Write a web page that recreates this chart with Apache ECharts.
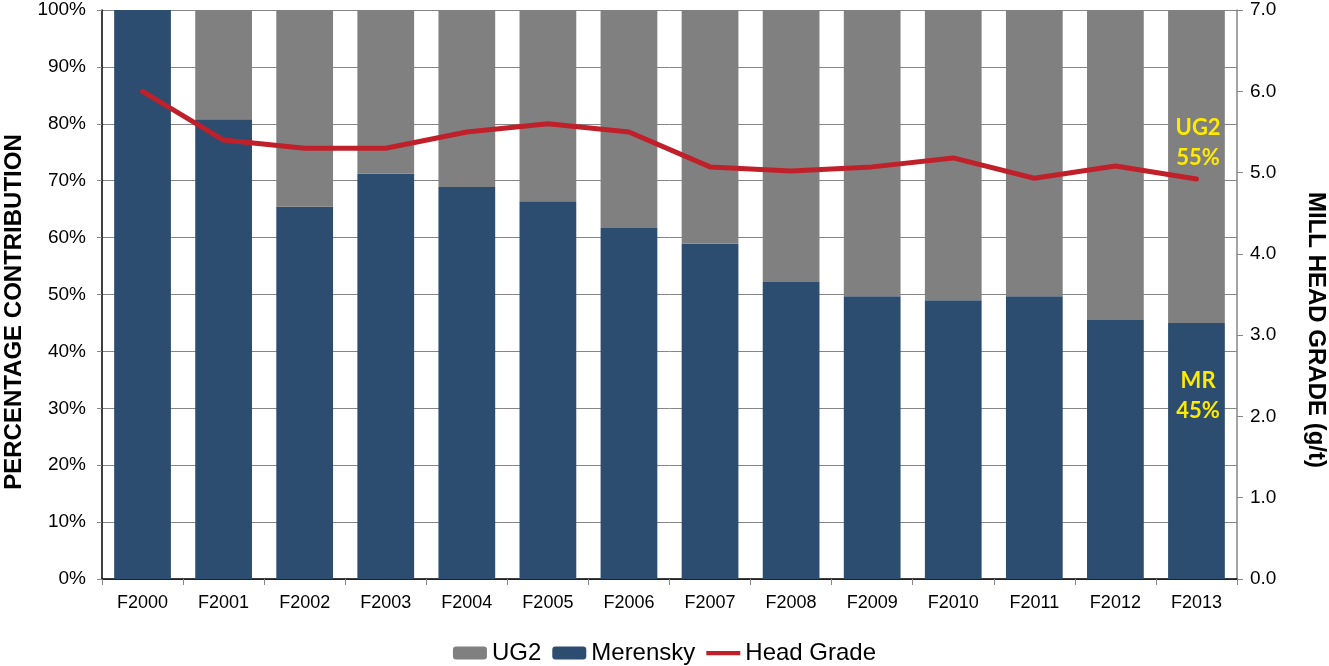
<!DOCTYPE html>
<html>
<head>
<meta charset="utf-8">
<script src="https://cdn.jsdelivr.net/npm/echarts@6/dist/echarts.min.js"></script>
<style>
  html, body { margin: 0; padding: 0; background: #ffffff; }
  #chart { width: 1329px; height: 666px; }
</style>
</head>
<body>
<div id="chart"></div>
<script>
// Financial years on the category axis
const years = ['F2000', 'F2001', 'F2002', 'F2003', 'F2004', 'F2005', 'F2006',
               'F2007', 'F2008', 'F2009', 'F2010', 'F2011', 'F2012', 'F2013'];

// Share of ore milled (%) by reef type
const merensky = [100, 80.8, 65.4, 71.2, 68.9, 66.4, 61.7, 58.9, 52.2, 49.7, 49.0, 49.7, 45.5, 45];
const ug2      = [0, 19.2, 34.6, 28.8, 31.1, 33.6, 38.3, 41.1, 47.8, 50.3, 51.0, 50.3, 54.5, 55];

// Mill head grade (g/t)
const headGrade = [6.0, 5.4, 5.3, 5.3, 5.5, 5.6, 5.5, 5.07, 5.02, 5.07, 5.18, 4.93, 5.08, 4.92];

// Left axis range (0%..100%) and right axis range (g/t)
const pctTicks = [0, 10, 20, 30, 40, 50, 60, 70, 80, 90, 100];
const gradeMax = 7;

// Axis titles
const leftTitle = 'PERCENTAGE CONTRIBUTION';
const rightTitle = 'MILL HEAD GRADE (g/t)';

const FONT = '"Liberation Sans", Arial, sans-serif';
const last = years.length - 1;

// Yellow call-out text on the final year's bar segments
const endLabel = (text, dy) => ({
  show: true,
  position: [30, dy],
  align: 'center',
  verticalAlign: 'top',
  color: '#FFEB00',
  fontFamily: 'Lato, "Open Sans", sans-serif',
  fontWeight: 'bold',
  fontSize: 22,
  lineHeight: 30,
  formatter: text
});

const titleStyle = { fontFamily: FONT, fontWeight: 'bold', fontSize: 24, fill: '#000',
                     align: 'center', verticalAlign: 'middle' };

const chart = echarts.init(document.getElementById('chart'));
chart.setOption({
  animation: false,
  backgroundColor: '#ffffff',
  grid: { left: 102, right: 92, top: 10, bottom: 87, containLabel: false, outerBoundsMode: 'none' },
  graphic: [
    { type: 'text', x: 14, y: 312, rotation: Math.PI / 2,
      style: Object.assign({ text: leftTitle }, titleStyle) },
    { type: 'text', x: 1316, y: 330, rotation: -Math.PI / 2,
      style: Object.assign({ text: rightTitle }, titleStyle) }
  ],
  legend: {
    data: [
      { name: 'UG2' },
      { name: 'Merensky' },
      { name: 'Head Grade', icon: 'path://M0,0 L40,0 L40,5 L0,5 Z' }
    ],
    left: 'center',
    top: 636,
    itemWidth: 34,
    itemHeight: 13,
    itemGap: 11,
    textStyle: { fontFamily: FONT, fontSize: 24, color: '#000' }
  },
  xAxis: {
    type: 'category',
    data: years,
    axisLine: { lineStyle: { color: '#000', width: 1.5 } },
    axisTick: { show: true, length: 6, lineStyle: { color: '#868686' } },
    axisLabel: { fontFamily: FONT, fontSize: 18, color: '#000', margin: 15 }
  },
  yAxis: [
    {
      type: 'value',
      min: pctTicks[0],
      max: pctTicks[pctTicks.length - 1],
      interval: 10,
      axisLine: { show: true, lineStyle: { color: '#000', width: 1.5 } },
      axisTick: { show: true, length: 5, lineStyle: { color: '#868686' } },
      axisLabel: { fontFamily: FONT, fontSize: 19, color: '#000', margin: 16, formatter: '{value}%' },
      splitLine: { show: true, lineStyle: { color: '#868686', width: 1 } }
    },
    {
      type: 'value',
      min: 0,
      max: gradeMax,
      interval: 1,
      position: 'right',
      axisLine: { show: true, lineStyle: { color: '#868686', width: 1.5 } },
      axisTick: { show: true, length: 6, lineStyle: { color: '#868686' } },
      axisLabel: { fontFamily: FONT, fontSize: 19, color: '#000', margin: 13,
                   formatter: v => v.toFixed(1) },
      splitLine: { show: false }
    }
  ],
  series: [
    {
      name: 'Merensky',
      type: 'bar',
      stack: 'ore',
      barCategoryGap: '30%',
      itemStyle: { color: '#2C4D6F' },
      data: merensky.map((v, i) => i === last ? { value: v, label: endLabel('MR\n45%', 43) } : v)
    },
    {
      name: 'UG2',
      type: 'bar',
      stack: 'ore',
      barCategoryGap: '30%',
      itemStyle: { color: '#808080' },
      data: ug2.map((v, i) => i === last ? { value: v, label: endLabel('UG2\n55%', 103) } : v)
    },
    {
      name: 'Head Grade',
      type: 'line',
      yAxisIndex: 1,
      data: headGrade,
      symbol: 'none',
      showSymbol: false,
      z: 5,
      itemStyle: { color: '#C0202A' },
      lineStyle: { color: '#C0202A', width: 5, cap: 'round', join: 'round' }
    }
  ]
});
</script>
</body>
</html>
